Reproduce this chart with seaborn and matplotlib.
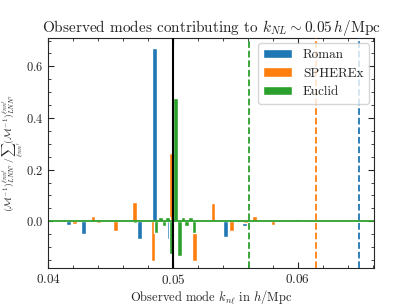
import numpy as np
import matplotlib
matplotlib.use("Agg")
import matplotlib.pyplot as plt
import seaborn as sns
from matplotlib.ticker import MultipleLocator

# Data
roman_k = [0.04159, 0.04279, 0.04398, 0.04611, 0.0473, 0.0485, 0.0497,
           0.0529, 0.05422, 0.0557, 0.0587, 0.05994, 0.0627]
roman_w = [-0.014, -0.049, 0.009, 0.005, -0.069, 0.67, -0.069,
           0.005, -0.062, -0.017, -0.004, 0.009, -0.003]

spherex_k = [0.04056, 0.0421, 0.04358, 0.0440, 0.04538, 0.0469, 0.04838, 0.0499,
             0.05171, 0.0532, 0.0547, 0.0558, 0.05654, 0.0577, 0.0580, 0.05954, 0.0611]
spherex_w = [0.005, -0.012, 0.022, -0.005, -0.036, 0.074, -0.153, 0.266,
             -0.153, 0.071, -0.036, -0.005, 0.022, 0.003, -0.014, 0.004, -0.003]

euclid_k = [0.04695, 0.0480, 0.04862, 0.04897, 0.04928, 0.04958, 0.04990, 0.05020,
            0.05050, 0.05080, 0.05110, 0.05140, 0.05168, 0.05198]
euclid_w = [-0.005, 0.003, -0.044, 0.018, -0.017, 0.018, -0.128, 0.476,
            -0.133, 0.018, -0.018, 0.018, -0.044, 0.005]

surveys = ["Roman", "SPHEREx", "Euclid"]
kmax = [0.0649, 0.06144, 0.05606]
k_nl = 0.05

sns.set_style("ticks")
plt.rcParams["font.family"] = ["serif"]
plt.rcParams["font.serif"] = ["cmr10"]
plt.rcParams["mathtext.fontset"] = "cm"
plt.rcParams["axes.formatter.use_mathtext"] = True
plt.rcParams["axes.unicode_minus"] = False

colors = sns.color_palette("tab10", 3)

fig = plt.figure(figsize=(4.07, 3.05), dpi=100)
ax = fig.add_axes([0.1187, 0.1223, 0.8003, 0.7531])

width = 0.00038
data = [(roman_k, roman_w), (spherex_k, spherex_w), (euclid_k, euclid_w)]
for (ks, ws), name, c in zip(data, surveys, colors):
    ax.bar(ks, ws, width=width, color=c, label=name, zorder=2)

ax.axhline(0, color=colors[2], lw=1.3, zorder=2.5)
ax.axvline(k_nl, color="black", lw=1.5, zorder=3)
for km, c in zip(kmax, colors):
    ax.axvline(km, color=c, ls="--", lw=1.3, zorder=3)

ax.set_xlim(0.04, 0.0661)
ax.set_ylim(-0.18, 0.71)
ax.xaxis.set_major_locator(MultipleLocator(0.01))
ax.xaxis.set_minor_locator(MultipleLocator(0.002))
ax.yaxis.set_major_locator(MultipleLocator(0.2))
ax.yaxis.set_minor_locator(MultipleLocator(0.05))
ax.tick_params(which="both", direction="in", top=True, right=True, labelsize=9.5)
ax.tick_params(axis="y", labelsize=9)
ax.tick_params(which="major", length=4)
ax.tick_params(which="minor", length=2)

ax.set_title(r"Observed modes contributing to $k_{NL} \sim 0.05\,h/\mathrm{Mpc}$", fontsize=11, pad=4)
ax.set_xlabel(r"Observed mode $k_{n\ell}$ in $h/\mathrm{Mpc}$", fontsize=9, labelpad=1)
ax.set_ylabel(r"$(\mathcal{M}^{-1})^{\ell n n'}_{LNN'}\,/\,\sum_{\ell n n'}(\mathcal{M}^{-1})^{\ell n n'}_{LNN'}$",
              fontsize=7)
ax.yaxis.set_label_coords(-0.07, 0.5)
ax.legend(loc="upper right", fontsize=9.5, handlelength=2.2, borderaxespad=0.4)

fig.savefig("out.png", dpi=100)
